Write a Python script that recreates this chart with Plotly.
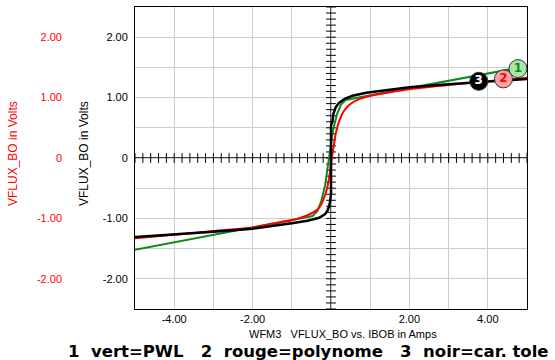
import numpy as np
import plotly.graph_objects as go

# Flux characteristic curves: VFLUX_BO (V) vs IBOB (A)
pwl_x = [-5.0, -0.47, -0.35, -0.25, -0.15, -0.05, 0.05, 0.15, 0.25, 0.37, 5.0]
pwl_y = [-1.52, -0.96, -0.88, -0.72, -0.45, 0.0, 0.45, 0.72, 0.88, 0.96, 1.52]

poly_x = [-5.0, -4.0, -3.0, -2.0, -1.5, -1.0, -0.7, -0.45, -0.3, -0.2, -0.1, -0.03, 0.02,
          0.07, 0.12, 0.22, 0.32, 0.47, 0.7, 1.0, 1.5, 2.0, 3.0, 4.0, 5.0]
poly_y = [-1.33, -1.27, -1.21, -1.15, -1.09, -1.03, -0.97, -0.9, -0.82, -0.7, -0.5, -0.25, 0.0,
          0.2, 0.4, 0.63, 0.77, 0.88, 0.97, 1.03, 1.09, 1.14, 1.21, 1.27, 1.33]

tole_x = [-5.0, -4.0, -3.0, -2.0, -1.5, -1.0, -0.6, -0.3, -0.15, -0.08, -0.03, 0.0, 0.0,
          0.04, 0.06, 0.12, 0.2, 0.35, 0.55, 0.9, 1.5, 2.0, 3.0, 4.0, 5.0]
tole_y = [-1.31, -1.27, -1.22, -1.17, -1.13, -1.08, -1.04, -0.99, -0.93, -0.86, -0.75, -0.6, 0.53,
          0.62, 0.73, 0.84, 0.91, 0.98, 1.03, 1.08, 1.13, 1.17, 1.22, 1.27, 1.31]

# Curve identification badges
badge_x = [4.77, 4.4, 3.77]
badge_y = [1.48, 1.31, 1.27]
badge_txt = ["1", "2", "3"]

x_ticks = [-4, -3, -2, -1, 0, 1, 2, 3, 4]
x_ticktext = ["-4.00", "", "-2.00", "", "", "", "2.00", "", "4.00"]
y_ticks = [-2, -1.5, -1, -0.5, 0, 0.5, 1, 1.5, 2]
y_ticktext = ["-2.00", "", "-1.00", "", "0", "", "1.00", "", "2.00"]

W, H = 555, 360
L, R, T, B = 0, 28, 7, 51
PW = W - L - R
PH = H - T - B
plot_left = 135

GREEN = "#11881a"
RED = "#ff0000"
GRID = "#c9cfc9"
SANS = "Liberation Sans, Arial, sans-serif"
TICKFONT = dict(family=SANS, size=11, color="black")


def py(px):
    """Paper y coordinate for a pixel row of the page."""
    return (H - B - px) / PH


fig = go.Figure()

# Crosshair axes through the origin with small ticks
fig.add_shape(type="line", x0=-5, x1=5, y0=0, y1=0, line=dict(color="black", width=1.3), layer="below")
fig.add_shape(type="line", x0=0, x1=0, y0=-2.5, y1=2.5, line=dict(color="black", width=1.3), layer="below")
hx = np.round(np.arange(-5, 5.001, 0.2), 3)
vy = np.round(np.arange(-2.5, 2.501, 0.1), 3)
fig.add_trace(go.Scatter(x=hx, y=np.zeros_like(hx), mode="markers", hoverinfo="skip",
                         marker=dict(symbol="line-ns-open", size=7, color="black",
                                     line=dict(color="black", width=1))))
fig.add_trace(go.Scatter(x=np.zeros_like(vy), y=vy, mode="markers", hoverinfo="skip",
                         marker=dict(symbol="line-ew-open", size=7, color="black",
                                     line=dict(color="black", width=1))))

fig.add_trace(go.Scatter(x=pwl_x, y=pwl_y, mode="lines", line=dict(color=GREEN, width=2)))
fig.add_trace(go.Scatter(x=poly_x, y=poly_y, mode="lines",
                         line=dict(color=RED, width=2, shape="spline", smoothing=0.5)))
fig.add_trace(go.Scatter(x=tole_x, y=tole_y, mode="lines", line=dict(color="black", width=2.5)))

badge_fill = ["#a6e6a6", "#f4a6a6", "#000000"]
badge_font = [GREEN, RED, "white"]
for bx, by, bt, bf, fc in zip(badge_x, badge_y, badge_txt, badge_fill, badge_font):
    fig.add_trace(go.Scatter(
        x=[bx], y=[by], mode="markers+text", text=[bt], textposition="middle center",
        marker=dict(size=18, color=bf, line=dict(color="#333333", width=1)),
        textfont=dict(family="DejaVu Sans, sans-serif", size=12, color=fc, weight="bold"),
    ))

fig.update_layout(
    width=W, height=H,
    margin=dict(l=L, r=R, t=T, b=B),
    paper_bgcolor="white", plot_bgcolor="white",
    showlegend=False,
    xaxis=dict(
        domain=[plot_left / PW, 1], range=[-5, 5],
        tickvals=x_ticks, ticktext=x_ticktext, tickfont=TICKFONT,
        showgrid=True, gridcolor=GRID, gridwidth=1, zeroline=False,
        showline=True, linecolor="black", linewidth=1, mirror=True, ticks="",
        ticklabelstandoff=0,
    ),
    yaxis=dict(
        range=[-2.5, 2.5],
        tickvals=y_ticks, ticktext=y_ticktext, tickfont=TICKFONT,
        showgrid=True, gridcolor=GRID, gridwidth=1, zeroline=False,
        showline=True, linecolor="black", linewidth=1, mirror=True, ticks="",
        ticklabelstandoff=4,
    ),
    yaxis2=dict(
        range=[-2.5, 2.5], overlaying="y", anchor="free", side="left",
        position=62 / PW,
        tickvals=[-2, -1, 0, 1, 2], ticktext=["-2.00", "-1.00", "0", "1.00", "2.00"],
        tickfont=dict(family=SANS, size=11, color=RED),
        showgrid=False, zeroline=False, showline=False, ticks="",
    ),
)

# Empty trace bound to the red axis so that it is rendered
fig.add_trace(go.Scatter(x=[None], y=[None], yaxis="y2", hoverinfo="skip"))

fig.add_annotation(text="VFLUX_BO in Volts", xref="paper", yref="paper",
                   x=84 / PW, xanchor="center", y=py(154), yanchor="middle",
                   textangle=-90, showarrow=False,
                   font=dict(family=SANS, size=12, color="black"))
fig.add_annotation(text="VFLUX_BO in Volts", xref="paper", yref="paper",
                   x=13 / PW, xanchor="center", y=py(154), yanchor="middle",
                   textangle=-90, showarrow=False,
                   font=dict(family=SANS, size=12, color=RED))
fig.add_annotation(text="WFM3   VFLUX_BO vs. IBOB in Amps", xref="paper", yref="paper",
                   x=343 / PW, xanchor="center", y=py(334), yanchor="middle", showarrow=False,
                   font=dict(family=SANS, size=11, color="black"))
fig.add_annotation(text="1  vert=PWL   2  rouge=polynome   3  noir=car. tole",
                   xref="paper", yref="paper",
                   x=66 / PW, xanchor="left", y=py(351), yanchor="middle", showarrow=False,
                   font=dict(family="DejaVu Sans, sans-serif", size=16.5, color="black", weight="bold"))

fig.write_html("out.html")
